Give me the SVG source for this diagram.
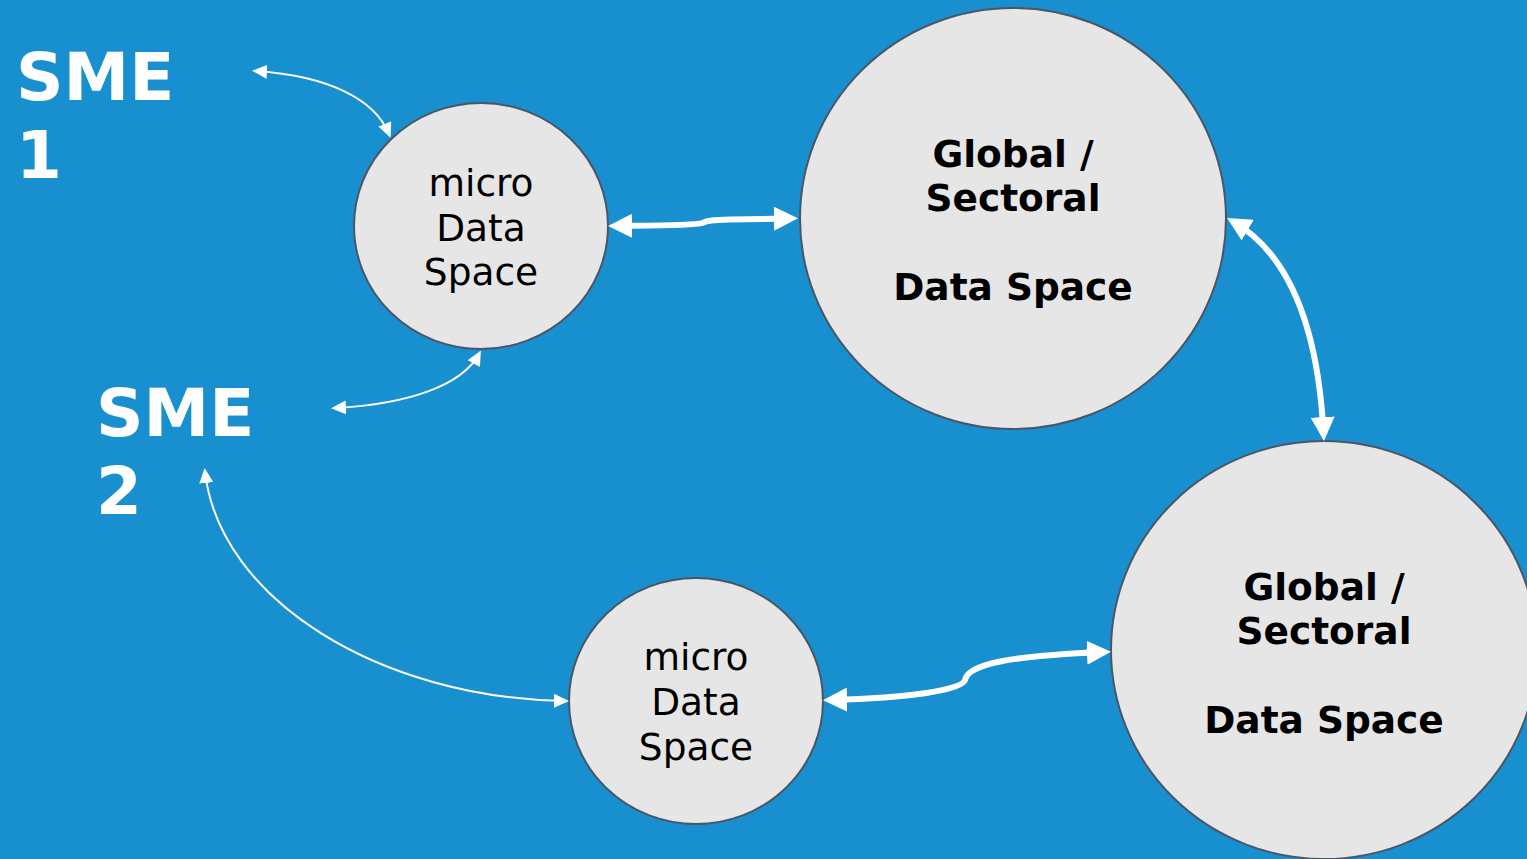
<svg xmlns="http://www.w3.org/2000/svg" width="1527" height="859" viewBox="0 0 1527 859">
<defs>
<style>
.bg{fill:#1890CF}
.node{fill:#E6E6E6;stroke:#4A5566;stroke-width:2}
.sme{font-family:"DejaVu Sans",Verdana,sans-serif;font-weight:bold;font-size:66px;fill:#FFFFFF}
.micro{font-family:"DejaVu Sans",Verdana,sans-serif;font-size:37.5px;fill:#000000;text-anchor:middle}
.glob{font-family:"DejaVu Sans",Verdana,sans-serif;font-weight:bold;font-size:37.5px;fill:#000000;text-anchor:middle}
.thin{fill:none;stroke:#FFFFFF;stroke-width:2;marker-start:url(#ah);marker-end:url(#ah)}
.thick{fill:none;stroke:#FFFFFF;stroke-width:6;marker-start:url(#AH);marker-end:url(#AH)}
</style>
<marker id="ah" viewBox="0 0 15 14" markerWidth="15" markerHeight="14" refX="11" refY="7" markerUnits="userSpaceOnUse" orient="auto-start-reverse">
<path d="M0,0 L15,7 L0,14 z" fill="#FFFFFF"/>
</marker>
<marker id="AH" viewBox="0 0 24 24" markerWidth="24" markerHeight="24" refX="16" refY="12" markerUnits="userSpaceOnUse" orient="auto-start-reverse">
<path d="M0,0 L24,12 L0,24 z" fill="#FFFFFF"/>
</marker>
</defs>
<rect class="bg" x="0" y="0" width="1527" height="859"/>
<g id="sme1">
<text class="sme" x="16" y="100">SME</text>
<text class="sme" x="16" y="178">1</text>
</g>
<g id="sme2">
<text class="sme" x="96" y="436">SME</text>
<text class="sme" x="96" y="514">2</text>
</g>
<g id="micro1">
<ellipse class="node" cx="481" cy="226" rx="127" ry="123"/>
<text class="micro" x="481" y="196">micro</text>
<text class="micro" x="481" y="241">Data</text>
<text class="micro" x="481" y="285">Space</text>
</g>
<g id="global1">
<ellipse class="node" cx="1013" cy="218.5" rx="213" ry="210.5"/>
<text class="glob" x="1013" y="167">Global /</text>
<text class="glob" x="1013" y="211">Sectoral</text>
<text class="glob" x="1013" y="300">Data Space</text>
</g>
<g id="global2">
<ellipse class="node" cx="1324" cy="650" rx="213" ry="209"/>
<text class="glob" x="1324" y="600">Global /</text>
<text class="glob" x="1324" y="644">Sectoral</text>
<text class="glob" x="1324" y="733">Data Space</text>
</g>
<g id="micro2">
<ellipse class="node" cx="696" cy="701" rx="127" ry="123"/>
<text class="micro" x="696" y="670">micro</text>
<text class="micro" x="696" y="715">Data</text>
<text class="micro" x="696" y="760">Space</text>
</g>
<g id="connectors">
<path class="thin" d="M256 71 C330 76 375 100 389 134"/>
<path class="thin" d="M335 408 C410 404 462 385 479 354"/>
<path class="thin" d="M205 472 C220 600 380 698 565 701"/>
<path class="thick" d="M616 226 C660 225.5 695 225.5 702 223 C708 220.5 712 220 730 219.5 L790 218.5"/>
<path class="thick" d="M1234 222 C1290 255 1318 330 1323.5 433"/>
<path class="thick" d="M831 700 C910 698 962 690 965 680 C968 664 1010 656 1103 652"/>
</g>
</svg>
